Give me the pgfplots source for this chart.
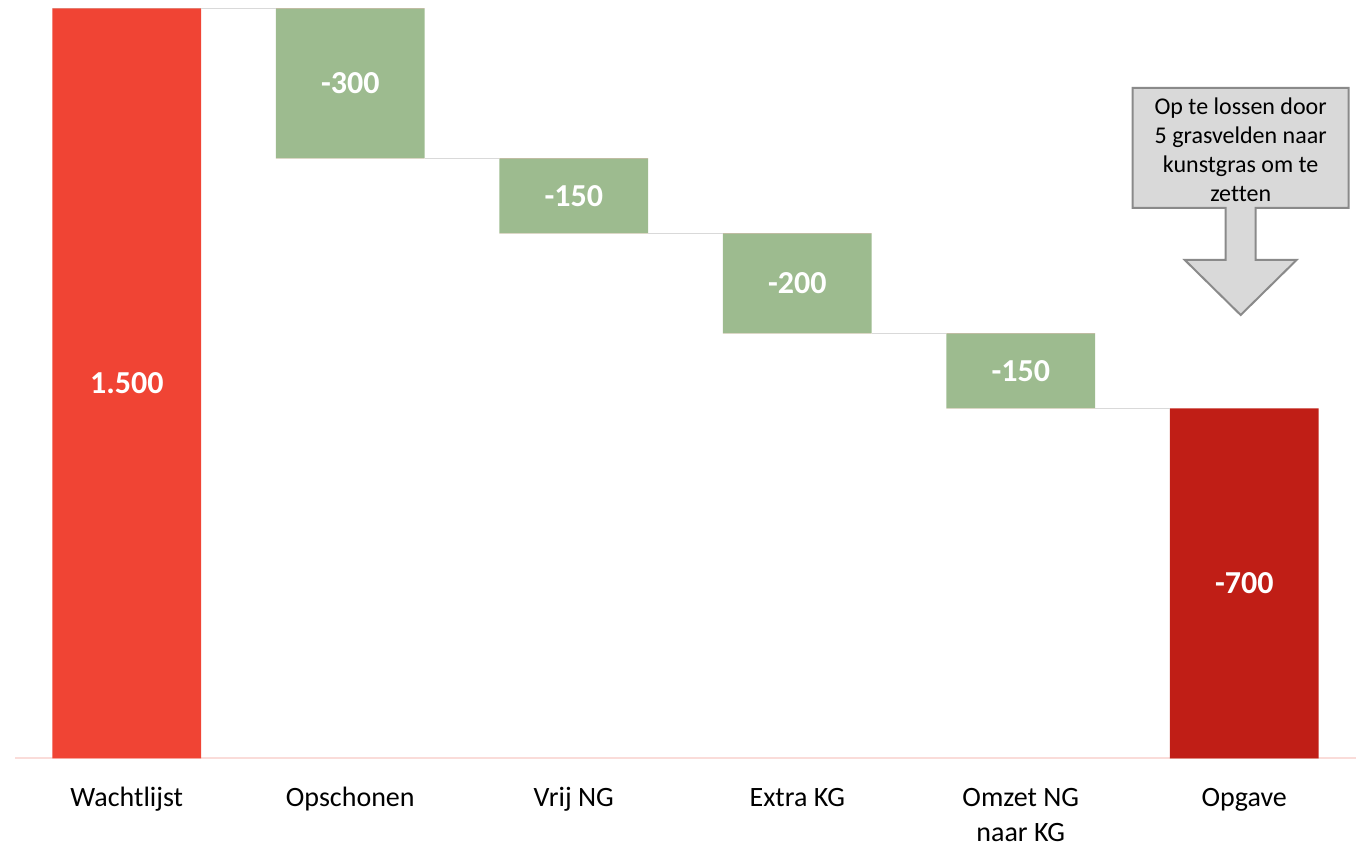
\documentclass[border=0pt]{standalone}
\usepackage{fontspec}
\setmainfont{Carlito}[Ligatures=NoCommon]
\usepackage{pgfplots}
\pgfplotsset{compat=1.18}

\definecolor{barred}{HTML}{F04434}
\definecolor{bardark}{HTML}{C01E16}
\definecolor{bargreen}{HTML}{9DBB8F}
\definecolor{connector}{HTML}{D9D9D9}
\definecolor{axispink}{HTML}{FADCD9}
\definecolor{calloutfill}{HTML}{D9D9D9}
\definecolor{calloutdraw}{HTML}{8A8A8A}

\begin{document}
\begin{tikzpicture}
\begin{axis}[name=ax,
    scale only axis, width=670.5pt, height=379.25pt,
    xmin=-0.5, xmax=5.5, ymin=0, ymax=1517,
    axis x line*=bottom, axis y line=none,
    x axis line style={draw=axispink, line width=1pt},
    ytick=\empty,
    xtick={0,1,2,3,4,5},
    xticklabels={Wachtlijst, Opschonen, Vrij NG, Extra KG,
        {\raisebox{0pt}[\height][0pt]{\begin{tabular}[t]{@{}c@{}}Omzet NG\\naar KG\end{tabular}}}, Opgave},
    major tick length=0pt,
    xticklabel style={anchor=base, yshift=-23.75pt, inner sep=0pt,
        font=\fontsize{14}{17.5}\selectfont, text=black},
    clip=false,
    unbounded coords=jump,
    bar width=0.666,
    every axis plot/.append style={bar shift=0pt},
]
% invisible base of the floating bars
\addplot[ybar, stack plots=y, draw=none, fill=none] coordinates
    {(0,0) (1,1200) (2,1050) (3,850) (4,700) (5,0)};
\addplot[ybar, stack plots=y, draw=none, fill=barred] coordinates
    {(0,1500) (1,0) (2,0) (3,0) (4,0) (5,0)};
\addplot[ybar, stack plots=y, draw=none, fill=bargreen] coordinates
    {(0,0) (1,300) (2,150) (3,200) (4,150) (5,0)};
\addplot[ybar, stack plots=y, draw=none, fill=bardark] coordinates
    {(0,0) (1,0) (2,0) (3,0) (4,0) (5,700)};

% connectors
\addplot[connector, line width=0.8pt, mark=none] coordinates {
    (0.333,1500) (0.667,1500) (nan,nan)
    (1.333,1200) (1.667,1200) (nan,nan)
    (2.333,1050) (2.667,1050) (nan,nan)
    (3.333,850) (3.667,850) (nan,nan)
    (4.333,700) (4.667,700)};

% value labels
\addplot[only marks, mark=none, nodes near coords, point meta=explicit symbolic,
    every node near coord/.append style={anchor=center, text=white,
        font=\fontsize{16}{19}\selectfont\bfseries}]
table[meta=label] {
x y label
0 750 1.500
1 1350 -300
2 1125 -150
3 950 -200
4 775 -150
5 350 -700
};

% callout
\draw[calloutdraw, line width=1pt, fill=calloutfill]
    (axis cs:4.501,1341) -- (axis cs:5.467,1341) -- (axis cs:5.467,1101)
    -- (axis cs:5.051,1101) -- (axis cs:5.051,997) -- (axis cs:5.234,997)
    -- (axis cs:4.984,887) -- (axis cs:4.734,997) -- (axis cs:4.917,997)
    -- (axis cs:4.917,1101) -- (axis cs:4.501,1101) -- cycle;
\node[align=center, font=\fontsize{12}{14.5}\selectfont, text=black]
    at (axis cs:4.984,1218) {Op te lossen door\\5 grasvelden naar\\kunstgras om te\\zetten};
\end{axis}
\pgfresetboundingbox
\path[use as bounding box] ([xshift=-7.5pt,yshift=-42.75pt]ax.south west)
    rectangle ([xshift=1pt]ax.north east);
\end{tikzpicture}
\end{document}
